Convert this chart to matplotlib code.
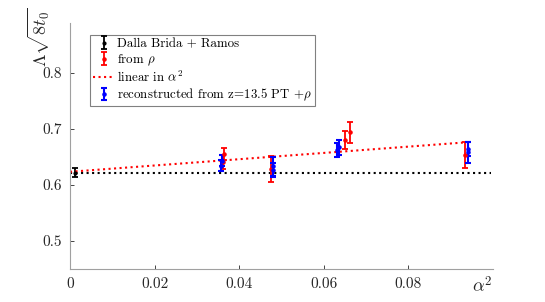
import matplotlib
matplotlib.use("Agg")
import matplotlib.pyplot as plt

plt.rcParams['font.family'] = ['cmr10', 'DejaVu Serif']
plt.rcParams['mathtext.fontset'] = 'cm'
plt.rcParams['axes.formatter.use_mathtext'] = True

# Dalla Brida + Ramos (continuum reference)
ref_x = [0.0011]
ref_y = [0.6222]
ref_err = [0.008]

# from rho
rho_x = [0.0365, 0.0362, 0.0476, 0.0651, 0.0661, 0.0934]
rho_y = [0.655, 0.641, 0.628, 0.681, 0.694, 0.654]
rho_err = [0.011, 0.013, 0.023, 0.016, 0.019, 0.023]

# reconstructed from z=13.5 PT + rho
rec_x = [0.0359, 0.0357, 0.0481, 0.0479, 0.0632, 0.0637, 0.0942, 0.0940]
rec_y = [0.643, 0.634, 0.633, 0.627, 0.662, 0.667, 0.658, 0.664]
rec_err = [0.010, 0.010, 0.017, 0.013, 0.012, 0.013, 0.018, 0.012]

# linear fit in alpha^2 and constant line
fit_x = [0.0, 0.0936]
fit_y = [0.6235, 0.676]
const_x = [0.0, 0.0995]
const_y = [0.6214, 0.6214]

fig = plt.figure(figsize=(5.45, 3.02), dpi=100)
ax = fig.add_axes([0.1284, 0.1093, 0.7762, 0.8145])

ax.plot(const_x, const_y, ':', color='black', lw=1.5)
h_ref = ax.errorbar(ref_x, ref_y, yerr=ref_err, fmt='.', color='black',
                    ms=4, lw=1.3, capsize=2.2, capthick=1.3,
                    label='Dalla Brida + Ramos')
h_rho = ax.errorbar(rho_x, rho_y, yerr=rho_err, fmt='.', color='red',
                    ms=4.5, lw=1.3, capsize=2.2, capthick=1.3,
                    label=r'from $\rho$')
h_fit, = ax.plot(fit_x, fit_y, ':', color='red', lw=1.5,
                 label=r'linear in $\alpha^2$')
h_rec = ax.errorbar(rec_x, rec_y, yerr=rec_err, fmt='.', color='blue',
                    ms=4.5, lw=1.5, capsize=2.2, capthick=1.5,
                    label=r'reconstructed from z=13.5 PT $+\rho$')

ax.set_xlim(0, 0.1)
ax.set_ylim(0.45, 0.889)
ax.set_xticks([0, 0.02, 0.04, 0.06, 0.08])
ax.set_xticklabels(['0', '0.02', '0.04', '0.06', '0.08'])
ax.set_yticks([0.5, 0.6, 0.7, 0.8])
ax.set_yticklabels(['0.5', '0.6', '0.7', '0.8'])
ax.tick_params(direction='in', length=3, width=0.6, colors='#262626',
               labelsize=11, pad=6)
for side in ['top', 'right']:
    ax.spines[side].set_visible(False)
for side in ['left', 'bottom']:
    ax.spines[side].set_color('#a0a0a0')
    ax.spines[side].set_linewidth(0.8)

fig.text(0.0716, 0.975, r'$\Lambda\sqrt{8t_0}$', rotation=90,
         ha='center', va='top', fontsize=13, color='#262626')
fig.text(0.9046, 0.057, r'$\alpha^2$', ha='right', va='center',
         fontsize=13, color='#262626')

leg = ax.legend(handles=[h_ref, h_rho, h_fit, h_rec], loc='upper left',
                bbox_to_anchor=(0.047, 0.951), fontsize=9.3, frameon=True,
                fancybox=False, edgecolor='#808080', framealpha=1,
                borderpad=0.25, labelspacing=0.15, handlelength=1.7,
                handletextpad=0.12, borderaxespad=0)
leg.get_frame().set_linewidth(0.8)

fig.savefig("out.png", dpi=100)
